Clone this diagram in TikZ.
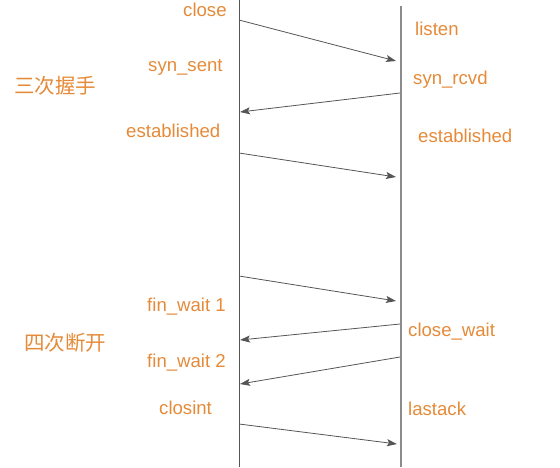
\documentclass[tikz,border=0pt]{standalone}
\usepackage{fontspec}
\setmainfont{Liberation Sans}
\newfontfamily\cjk{Noto Sans CJK SC}
\usetikzlibrary{arrows.meta}
\definecolor{stateorange}{HTML}{E58A38}
\definecolor{linegray}{HTML}{555555}
\begin{document}
\begin{tikzpicture}[x=1pt, y=-1pt]
    % Styles
    \tikzstyle{state} = [inner sep=0pt, anchor=base west, text=stateorange,
        font=\fontsize{18.6}{22}\selectfont]
    \tikzstyle{phase} = [inner sep=0pt, anchor=base west, text=stateorange,
        font=\cjk\fontsize{20.5}{24}\selectfont]
    \tikzstyle{msg} = [draw=linegray, line width=0.8pt,
        -{Stealth[length=10pt, width=7pt, inset=2pt]}]

    \useasboundingbox (0,0) rectangle (560,467);

    % Lifelines
    \coordinate (clienttop) at (239,0);
    \coordinate (clientbot) at (239,467);
    \coordinate (servertop) at (401,6);
    \coordinate (serverbot) at (401,467);
    \draw [linegray, line width=1pt] (clienttop) -- (clientbot);
    \draw [gray!90, line width=1.6pt] (servertop) -- (serverbot);

    % Client states
    \node [state] (close) at (183,16) {close};
    \node [state] (synsent) at (148,71) {syn\_sent};
    \node [state] (estclient) at (126,137) {established};
    \node [state] (finwaita) at (147,311) {fin\_wait 1};
    \node [state] (finwaitb) at (147,367) {fin\_wait 2};
    \node [state] (closint) at (159,414) {closint};

    % Server states
    \node [state] (listen) at (415,35) {listen};
    \node [state] (synrcvd) at (413,84) {syn\_rcvd};
    \node [state] (estserver) at (418,142) {established};
    \node [state] (closewait) at (408,336) {close\_wait};
    \node [state] (lastack) at (408,415) {lastack};

    % Phases
    \node [phase] (handshake) at (14,93) {三次握手};
    \node [phase] (teardown) at (24,350) {四次断开};

    % Message end points
    \coordinate (c1) at (239,20);   \coordinate (s1) at (396,61);
    \coordinate (s2) at (400,93);   \coordinate (c2) at (240,112);
    \coordinate (c3) at (239,153);  \coordinate (s3) at (396,177);
    \coordinate (c4) at (239,276);  \coordinate (s4) at (396,301);
    \coordinate (s5) at (400,324);  \coordinate (c5) at (240,340);
    \coordinate (s6) at (400,357);  \coordinate (c6) at (240,384);
    \coordinate (c7) at (239,424);  \coordinate (s7) at (397,444);

    % Arrows
    \draw [msg] (c1) -- (s1);
    \draw [msg] (s2) -- (c2);
    \draw [msg] (c3) -- (s3);
    \draw [msg] (c4) -- (s4);
    \draw [msg] (s5) -- (c5);
    \draw [msg] (s6) -- (c6);
    \draw [msg] (c7) -- (s7);
\end{tikzpicture}
\end{document}
